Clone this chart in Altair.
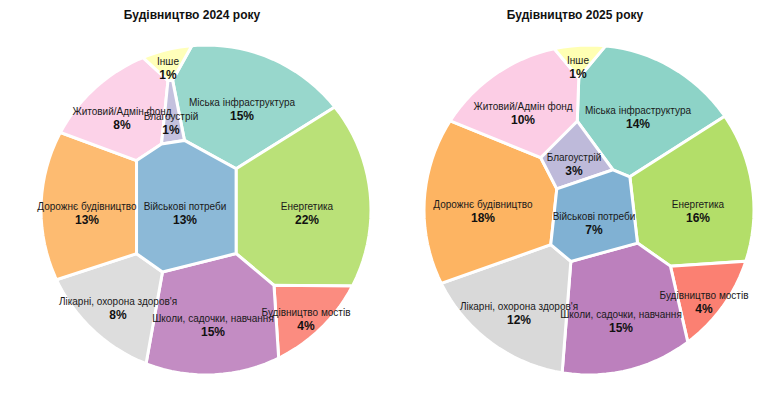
import math
import altair as alt
import pandas as pd

# ---------------- data ----------------
names = ["Міська інфраструктура", "Енергетика", "Будівництво мостів",
         "Школи, садочки, навчання", "Лікарні, охорона здоров'я",
         "Дорожнє будівництво", "Житовий/Адмін фонд", "Інше",
         "Благоустрій", "Військові потреби"]
colors = ["#8dd3c7", "#b3de69", "#fb8072", "#bc80bd", "#d9d9d9",
          "#fdb462", "#fccde5", "#ffffb3", "#bebada", "#80b1d3"]

titles = ["Будівництво 2024 року", "Будівництво 2025 року"]
title_x = [192, 575]
title_y = [15, 15]
panel_opacity = [0.9, 1.0]

values_2024 = [15, 22, 4, 15, 8, 13, 8, 1, 1, 13]
values_2025 = [14, 16, 4, 15, 12, 18, 10, 1, 3, 7]

# label anchors (page pixels): name line centre
lab_x_2024 = [242, 307, 306, 213, 118, 87, 122, 168, 171, 185]
lab_y_2024 = [103, 207, 313, 319, 302, 207, 112, 62, 117, 207]
lab_x_2025 = [638, 698, 704, 621, 519, 483, 523, 578, 574, 594]
lab_y_2025 = [111, 205, 296, 315, 307, 205, 107, 61, 158, 217]

circle_cx = [206, 589]
circle_cy = [210, 210]
circle_r = [165, 165]


# ---------------- power-diagram (voronoi treemap) layout ----------------
def clip(poly, ax, ay, b):
    out = []
    if not poly:
        return out
    px, py = poly[-1]
    fp = ax * px + ay * py - b
    for qx, qy in poly:
        fq = ax * qx + ay * qy - b
        if fq <= 0:
            if fp > 0:
                t = fp / (fp - fq)
                out.append((px + t * (qx - px), py + t * (qy - py)))
            out.append((qx, qy))
        elif fp <= 0:
            t = fp / (fp - fq)
            out.append((px + t * (qx - px), py + t * (qy - py)))
        px, py, fp = qx, qy, fq
    return out


def area(poly):
    s = 0.0
    n = len(poly)
    for i in range(n):
        x1, y1 = poly[i]
        x2, y2 = poly[(i + 1) % n]
        s += x1 * y2 - x2 * y1
    return abs(s) / 2


def layout(sites, vals, cx, cy, r, iters=500):
    n = len(sites)
    circ = [(cx + r * math.cos(2 * math.pi * k / 120), cy + r * math.sin(2 * math.pi * k / 120))
            for k in range(120)]
    A = area(circ)
    tot = sum(vals)
    tgt = [v / tot * A for v in vals]
    w = [0.0] * n
    order = []
    for i in range(n):
        o = sorted([j for j in range(n) if j != i],
                   key=lambda j: (sites[j][0] - sites[i][0]) ** 2 + (sites[j][1] - sites[i][1]) ** 2)
        order.append(o)

    def cells():
        res = []
        for i in range(n):
            sx, sy = sites[i]
            poly = circ
            for j in order[i]:
                tx, ty = sites[j]
                ax = 2 * (tx - sx)
                ay = 2 * (ty - sy)
                b = (tx * tx + ty * ty) - (sx * sx + sy * sy) - w[j] + w[i]
                poly = clip(poly, ax, ay, b)
                if not poly:
                    break
            res.append(poly)
        return res

    for it in range(iters):
        cs = cells()
        for i in range(n):
            w[i] += 0.2 * (tgt[i] - area(cs[i]))
    return cells()


features = []
labels = []
for k, (vals, lx, ly) in enumerate([(values_2024, lab_x_2024, lab_y_2024),
                                     (values_2025, lab_x_2025, lab_y_2025)]):
    sites = [(lx[i], ly[i] + 6) for i in range(len(names))]
    polys = layout(sites, vals, circle_cx[k], circle_cy[k], circle_r[k])
    for i, poly in enumerate(polys):
        if len(poly) < 3:
            continue
        ring = [[p[0], p[1]] for p in poly] + [[poly[0][0], poly[0][1]]]
        features.append({"type": "Feature",
                         "geometry": {"type": "Polygon", "coordinates": [ring]},
                         "properties": {"name": names[i], "color": colors[i],
                                        "op": panel_opacity[k]}})
        labels.append({"x": lx[i], "y": ly[i], "t": names[i], "kind": "name"})
        labels.append({"x": lx[i], "y": ly[i] + 13, "t": f"{vals[i]}%", "kind": "pct"})

lab_df = pd.DataFrame(labels)
title_df = pd.DataFrame({"x": title_x, "y": title_y, "t": titles})

shapes = alt.Chart(alt.Data(values=features)).mark_geoshape(
    stroke="white", strokeWidth=3
).encode(
    fill=alt.Fill("properties.color:N", scale=None),
    fillOpacity=alt.FillOpacity("properties.op:Q", scale=None),
)

name_text = alt.Chart(lab_df).transform_filter(alt.datum.kind == "name").mark_text(
    font="Liberation Sans", fontSize=10, color="#1a1a1a", baseline="middle"
).encode(longitude="x:Q", latitude="y:Q", text="t:N")

pct_text = alt.Chart(lab_df).transform_filter(alt.datum.kind == "pct").mark_text(
    font="Liberation Sans", fontSize=12, fontWeight="bold", color="#111111", baseline="middle"
).encode(longitude="x:Q", latitude="y:Q", text="t:N")

title_text = alt.Chart(title_df).mark_text(
    font="Liberation Sans", fontSize=12, fontWeight="bold", color="#111111", baseline="middle"
).encode(longitude="x:Q", latitude="y:Q", text="t:N")

chart = alt.layer(shapes, name_text, pct_text, title_text).project(
    type="identity", scale=1, translate=[-8, -8]
).properties(width=756, height=381, padding=0).configure_view(stroke=None)

chart.save("out.html", embed_options={"renderer": "svg", "actions": False})
